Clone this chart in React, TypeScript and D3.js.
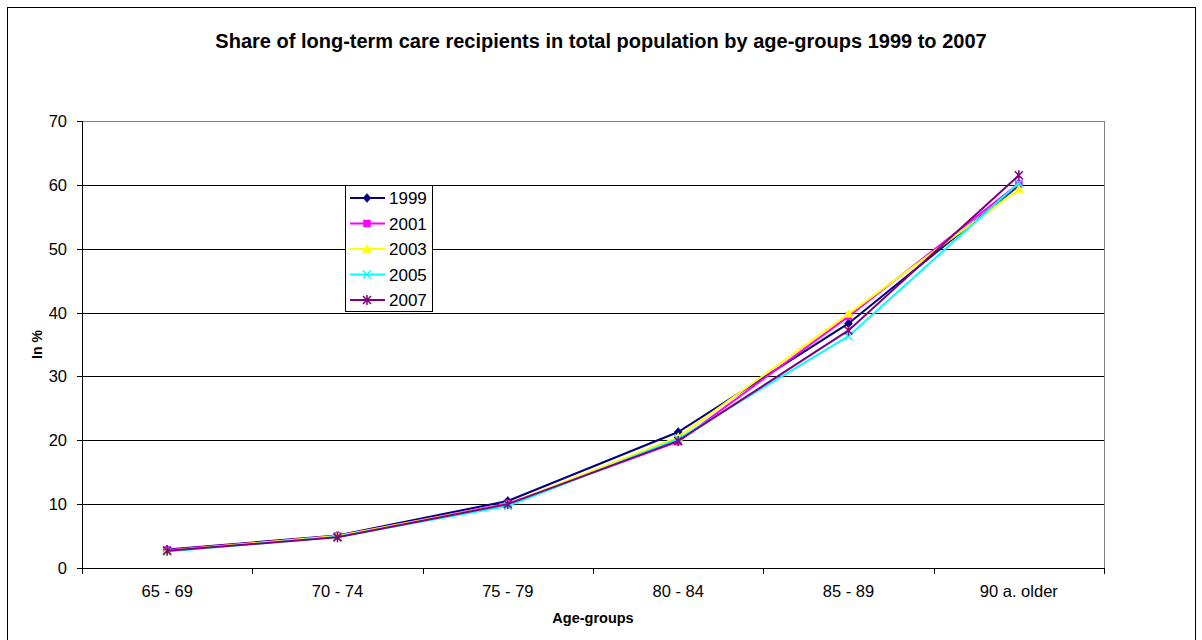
import React from "react";
import * as d3 from "d3";

const categories = ["65 - 69", "70 - 74", "75 - 79", "80 - 84", "85 - 89", "90 a. older"];
const years = ["1999", "2001", "2003", "2005", "2007"];
const v1999 = [2.9, 5.1, 10.5, 21.3, 38.3, 59.9];
const v2001 = [2.8, 5.0, 10.1, 19.8, 39.4, 60.2];
const v2003 = [2.7, 5.0, 10.0, 20.5, 39.8, 59.3];
const v2005 = [2.6, 4.9, 9.7, 20.2, 36.3, 60.3];
const v2007 = [2.7, 4.8, 10.0, 19.9, 37.2, 61.5];
const yTicks = [0, 10, 20, 30, 40, 50, 60, 70];

const seriesValues = [v1999, v2001, v2003, v2005, v2007];
const colors = ["#000080", "#FF00FF", "#FFFF00", "#00FFFF", "#800080"];
const markers = ["diamond", "square", "triangle", "x", "star"];

const FONT = "'Liberation Sans', Arial, sans-serif";

function Marker({ type, x, y, color }: { type: string; x: number; y: number; color: string }) {
  const s = 4;
  if (type === "diamond") {
    return <path d={`M${x},${y - s - 0.5}L${x + s},${y}L${x},${y + s + 0.5}L${x - s},${y}Z`} fill={color} stroke={color} strokeWidth={0.5} />;
  }
  if (type === "square") {
    return <rect x={x - 3.5} y={y - 3.5} width={7} height={7} fill={color} stroke={color} strokeWidth={0.5} />;
  }
  if (type === "triangle") {
    return <path d={`M${x},${y - 4.5}L${x + 4.5},${y + 3.5}L${x - 4.5},${y + 3.5}Z`} fill={color} stroke={color} strokeWidth={0.5} />;
  }
  if (type === "x") {
    return <path d={`M${x - 4},${y - 4}L${x + 4},${y + 4}M${x - 4},${y + 4}L${x + 4},${y - 4}`} stroke={color} strokeWidth={1.5} fill="none" />;
  }
  return (
    <path
      d={`M${x - 4},${y - 4}L${x + 4},${y + 4}M${x - 4},${y + 4}L${x + 4},${y - 4}M${x},${y - 5}L${x},${y + 5}`}
      stroke={color}
      strokeWidth={1.5}
      fill="none"
    />
  );
}

export default function App() {
  const W = 1202;
  const H = 640;
  const left = 82;
  const right = 1104;
  const top = 121;
  const bottom = 568;

  const x = d3.scaleBand<string>().domain(categories).range([left, right]);
  const y = d3.scaleLinear().domain([0, 70]).range([bottom, top]);
  const cx = (c: string) => (x(c) as number) + x.bandwidth() / 2;

  const line = d3
    .line<number>()
    .x((_, i) => cx(categories[i]))
    .y((d) => y(d));

  const legX = 345;
  const legY = 185;
  const legRow = 25.5;

  return (
    <svg
      width={W}
      height={H}
      style={{ position: "absolute", left: 0, top: 0, background: "#fff" }}
      fontFamily={FONT}
    >
      <rect x={0} y={0} width={W} height={H} fill="#fff" />
      <rect x={7.5} y={7.5} width={1188} height={660} fill="none" stroke="#000" strokeWidth={1} />
      <text x={W / 2} y={48} textAnchor="middle" fontSize={20} fontWeight="bold" fill="#000">
        Share of long-term care recipients in total population by age-groups 1999 to 2007
      </text>

      {/* gridlines */}
      {yTicks.map((t) => (
        <line key={"g" + t} x1={left} x2={right} y1={Math.round(y(t)) + 0.5} y2={Math.round(y(t)) + 0.5} stroke="#000" strokeWidth={1} />
      ))}
      {/* plot border */}
      <line x1={right + 0.5} x2={right + 0.5} y1={top} y2={bottom} stroke="#808080" strokeWidth={1} />
      <line x1={left} x2={right} y1={top + 0.5} y2={top + 0.5} stroke="#808080" strokeWidth={1} />
      {/* y axis */}
      <line x1={left + 0.5} x2={left + 0.5} y1={top} y2={bottom + 1} stroke="#000" strokeWidth={1} />
      {yTicks.map((t) => (
        <g key={"yt" + t}>
          <line x1={left - 5} x2={left} y1={Math.round(y(t)) + 0.5} y2={Math.round(y(t)) + 0.5} stroke="#000" />
          <text x={left - 15} y={y(t) + 6} textAnchor="end" fontSize={16.5} fill="#000">
            {t}
          </text>
        </g>
      ))}
      {/* x axis ticks */}
      {categories.concat([""]).map((c, i) => {
        const xx = Math.round(left + i * x.bandwidth()) + 0.5;
        return <line key={"xt" + i} x1={xx} x2={xx} y1={bottom} y2={bottom + 6} stroke="#000" />;
      })}
      {categories.map((c) => (
        <text key={"xl" + c} x={cx(c)} y={597} textAnchor="middle" fontSize={16.5} fill="#000">
          {c}
        </text>
      ))}
      <text x={(left + right) / 2} y={623} textAnchor="middle" fontSize={14.5} fontWeight="bold" fill="#000">
        Age-groups
      </text>
      <text transform={`translate(42,${(top + bottom) / 2}) rotate(-90)`} textAnchor="middle" fontSize={14} fontWeight="bold" fill="#000">
        In %
      </text>

      {/* series */}
      {seriesValues.map((vals, si) => (
        <g key={"s" + si}>
          <path d={line(vals) as string} fill="none" stroke={colors[si]} strokeWidth={2} />
          {vals.map((v, i) => (
            <Marker key={i} type={markers[si]} x={cx(categories[i])} y={y(v)} color={colors[si]} />
          ))}
        </g>
      ))}

      {/* legend */}
      <rect x={legX + 0.5} y={legY + 0.5} width={87} height={126} fill="#fff" stroke="#000" strokeWidth={1} />
      {years.map((yr, i) => {
        const ly = legY + 13 + i * legRow;
        return (
          <g key={"l" + yr}>
            <line x1={legX + 5} x2={legX + 40} y1={ly} y2={ly} stroke={colors[i]} strokeWidth={2} />
            <Marker type={markers[i]} x={legX + 22} y={ly} color={colors[i]} />
            <text x={legX + 44} y={ly + 6} fontSize={17} fill="#000">
              {yr}
            </text>
          </g>
        );
      })}
    </svg>
  );
}
